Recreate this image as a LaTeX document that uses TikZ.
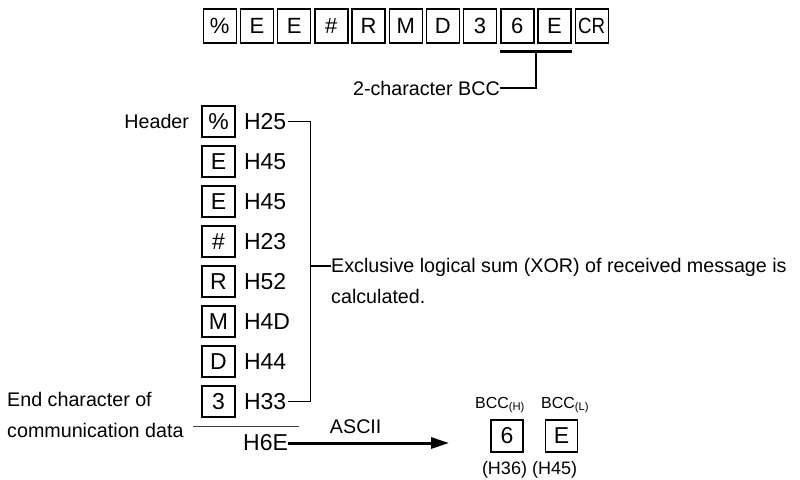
\documentclass[tikz,border=0pt]{standalone}
\usepackage{graphicx}
\usepackage{fontspec}
\setmainfont{Liberation Sans}
\usetikzlibrary{arrows.meta, positioning, calc}

\begin{document}
\begin{tikzpicture}[
    x=1pt, y=-1pt,
    rowbox/.style={rectangle, draw, line width=1.4pt, inner sep=0pt,
                   minimum width=33pt, minimum height=34pt,
                   font=\fontsize{22}{22}\selectfont},
    chbox/.style={rectangle, draw, line width=1.6pt, inner sep=0pt,
                  minimum width=33pt, minimum height=31pt,
                  font=\fontsize{23}{23}\selectfont},
    hexlbl/.style={inner sep=0pt, anchor=west,
                   font=\fontsize{23}{23}\selectfont},
    note/.style={inner sep=0pt, align=left,
                 font=\fontsize{19.7}{31}\selectfont},
    small/.style={inner sep=0pt, font=\fontsize{16}{16}\selectfont},
    conn/.style={line width=1.3pt},
    bar/.style={line width=3pt},
    arrow/.style={-{Triangle[length=18pt, width=11pt]}, line width=3pt},
]
\useasboundingbox (0,0) rectangle (800,479);

% Received message
\foreach \ch [count=\i] in {\%,E,E,\#,R,M,D,3,6,E,{\scalebox{0.85}[1]{CR}}}
  \node[rowbox] (t\i) at ({219.7+37.2*(\i-1)}, 26) {\ch};

% BCC part
\node[note, anchor=east] (bcclbl) at (500, 88) {2-character BCC};
\coordinate (bccmid) at ($(t9.south east)!0.5!(t10.south west)+(0,8)$);
\draw[bar] ([yshift=-8pt]t9.south west) -- ([yshift=-8pt]t10.south east);
\draw[conn] (bccmid) |- (bcclbl.east);

% Characters and codes
\foreach \ch/\hx [count=\i] in {\%/H25, E/H45, E/H45, \#/H23, R/H52, M/H4D, D/H44, 3/H33} {
  \node[chbox] (c\i) at (218.5, {121.5+40*(\i-1)}) {\ch};
  \node[hexlbl, right=8pt of c\i] (h\i) {\hx};
}
\node[note, left=12pt of c1] (hdr) {Header};

% XOR bracket
\coordinate (brk) at ($(h1.east)+(24,0)$);
\node[note, anchor=north west] (xor) at (331, 258)
  {Exclusive logical sum (XOR) of received message is\\calculated.};
\coordinate (xortk) at ([yshift=-8pt]xor.north west);
\draw[conn] ([xshift=2pt]h1.east) -- (brk) -- (brk |- h8.east) -- ([xshift=2pt]h8.east);
\draw[conn] (brk |- xortk) -- (xortk);

% Result
\node[note, anchor=north west] (endlbl) at (7, 392) {End character of\\communication data};
\coordinate (sumA) at (193, 426);
\coordinate (sumB) at (299, 426);
\draw[line width=1pt, black!75] (sumA) -- (sumB);
\node[hexlbl] (h6e) at (243, 443) {H6E};
\coordinate (arrend) at (449, 443);
\draw[arrow] (h6e.east) -- (arrend) node[note, pos=0.42, above=8pt] (ascii) {ASCII};

% BCC characters
\node[chbox, minimum width=32pt, minimum height=32pt] (b6) at (507, 436) {6};
\node[chbox, minimum width=32pt, minimum height=32pt, right=21pt of b6] (bE) {E};
\node[small, above=6pt of b6, xshift=-7pt] (bcch) {BCC\textsubscript{(H)}};
\node[small, above=6pt of bE, xshift=3.5pt] (bccl) {BCC\textsubscript{(L)}};
\node[note, font=\fontsize{18}{18}\selectfont, below=8pt of b6, xshift=-2.5pt] (hx36) {(H36)};
\node[note, font=\fontsize{18}{18}\selectfont, below=8pt of bE, xshift=-7pt] (hx45) {(H45)};

\end{tikzpicture}
\end{document}
